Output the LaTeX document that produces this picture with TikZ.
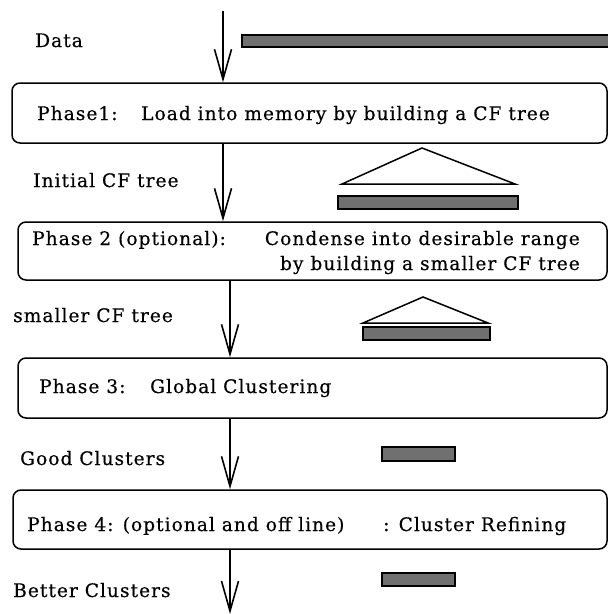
\documentclass[tikz,border=0pt]{standalone}
\usepackage{fontspec}
\setmainfont{DejaVu Serif}[LetterSpace=5.5, FakeBold=0.4]
\usetikzlibrary{arrows.meta, positioning}

\begin{document}
\begin{tikzpicture}[x=1pt, y=-1pt, >={Straight Barb[length=30pt,width=17pt]},
  phase/.style={draw, line width=1.5pt, rounded corners=8pt},
  lbl/.style={anchor=base west, inner sep=0pt, font=\fontsize{18.6}{22}\selectfont},
  bar/.style={draw, line width=1.4pt, fill=black!56, inner sep=0pt},
  flow/.style={line width=1.6pt, ->}]

\useasboundingbox (0,0) rectangle (608,614);

% phases
\node[phase, minimum width=595pt, minimum height=60pt] (ph1) at (309.5,113) {};
\node[phase, minimum width=589pt, minimum height=58pt] (ph2) at (312.5,251) {};
\node[phase, minimum width=589pt, minimum height=60pt] (ph3) at (312.5,388) {};
\node[phase, minimum width=594pt, minimum height=59pt] (ph4) at (310,519.5) {};

\node[lbl] (ph1a) at (37,120) {Phase1:};
\node[lbl] (ph1b) at (141,120) {Load into memory by building a CF tree};
\node[lbl] (ph2a) at (32,245) {Phase 2 (optional):};
\node[lbl, anchor=base east] (ph2b) at (580,245) {Condense into desirable range};
\node[lbl, anchor=base east] (ph2c) at (580,270) {by building a smaller CF tree};
\node[lbl] (ph3a) at (39,393) {Phase 3:};
\node[lbl] (ph3b) at (150,393) {Global Clustering};
\node[lbl] (ph4a) at (27,531) {Phase 4: (optional and off line)};
\node[lbl] (ph4b) at (383,531) {: Cluster Refining};

% what flows between them
\node[lbl] (data) at (35,47) {Data};
\node[lbl] (initial) at (33,187) {Initial CF tree};
\node[lbl] (smaller) at (13,322) {smaller CF tree};
\node[lbl] (good) at (20,465) {Good Clusters};
\node[lbl] (better) at (13,597) {Better Clusters};

\coordinate (in) at (223,11);
\coordinate (out) at (230,614);

\draw[flow] (in) -- (in |- ph1.north);
\draw[flow] (in |- ph1.south) -- (in |- ph2.north);
\draw[flow] (out |- ph2.south) -- (out |- ph3.north);
\draw[flow] (out |- ph3.south) -- (out |- ph4.north);
\draw[flow] (out |- ph4.south) -- (out);

% bars and trees
\node[bar, minimum width=372pt, minimum height=12pt] (databar) at (428,41) {};
\node[bar, minimum width=180pt, minimum height=13pt] (initbar) at (428,202.5) {};
\node[bar, minimum width=127pt, minimum height=13pt] (smallbar) at (426.5,333.5) {};
\node[bar, minimum width=73pt, minimum height=14pt] (goodbar) at (418.5,454) {};
\node[bar, minimum width=73pt, minimum height=13pt] (betterbar) at (418.5,579.5) {};

\draw[line width=1.5pt, line join=miter] (342,184) -- (422,148) -- (515,184) -- cycle;
\draw[line width=1.5pt, line join=miter] (363,323) -- (423,297) -- (488,323) -- cycle;

\end{tikzpicture}
\end{document}
